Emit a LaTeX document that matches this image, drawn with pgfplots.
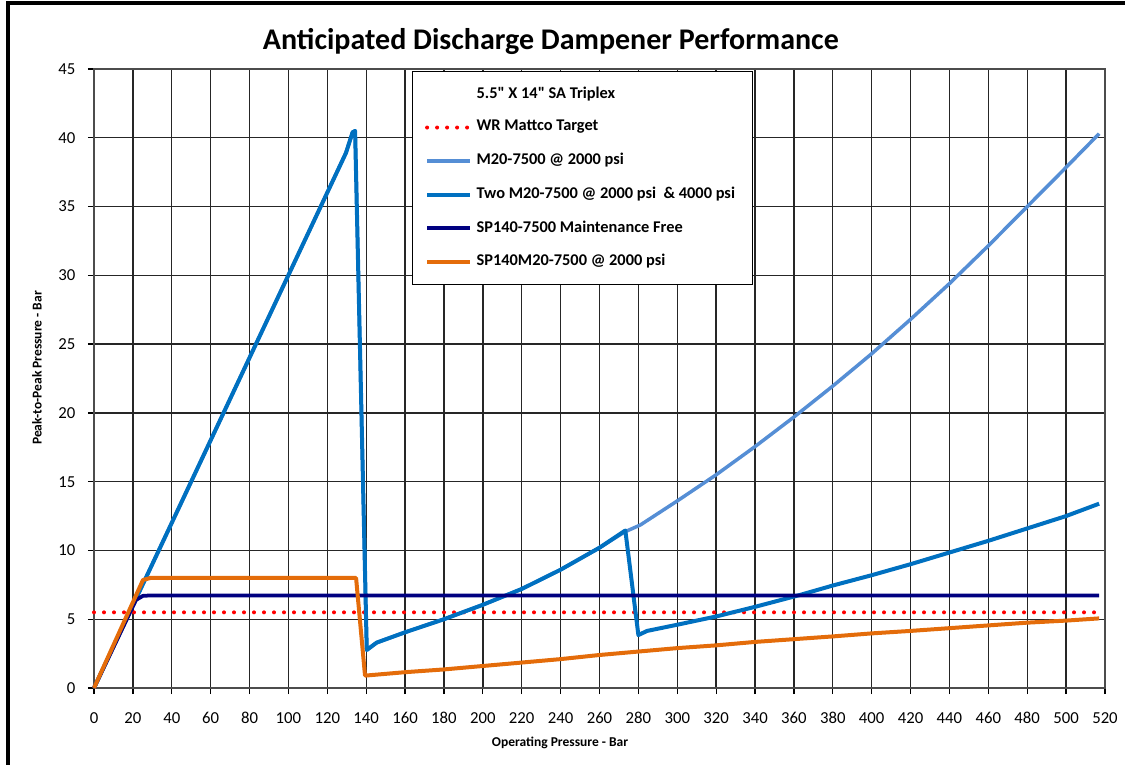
\documentclass[border=0pt]{standalone}
\usepackage{fontspec}
\setmainfont{Carlito}
\newfontfamily\rawfont{Carlito}
\usepackage{pgfplots}
\pgfplotsset{compat=1.18}

\definecolor{lightblu}{RGB}{85,142,213}
\definecolor{darkblu}{RGB}{0,112,192}
\definecolor{navyblu}{RGB}{0,0,128}
\definecolor{orng}{RGB}{228,108,10}

\begin{document}
\begin{tikzpicture}
% page size = 1125x764 px at 0.4pt per px, axis origin at px (94,688)
\useasboundingbox (-37.6pt,-30.4pt) rectangle (412.4pt,275.2pt);
\draw[line width=1.4pt] (-34.4pt,-32pt) -- (-34.4pt,274pt) -- (414pt,274pt);

\begin{axis}[
    scale only axis,
    width=404.4pt, height=247.6pt,
    xmin=0, xmax=520,
    ymin=0, ymax=45,
    xtick distance=20,
    ytick distance=5,
    tick pos=left,
    tick align=outside,
    major tick length=2.4pt,
    grid=major,
    grid style={black!85, line width=0.55pt},
    axis line style={black!70, line width=0.6pt},
    tick style={black, line width=0.5pt},
    clip=false,
    /pgf/number format/assume math mode=true,
    ticklabel style={font=\fontsize{6.7}{7}\selectfont},
    xticklabel style={yshift=-3.8pt},
    yticklabel style={xshift=-1.5pt},
    title={Anticipated Discharge Dampener Performance},
    title style={at={(0.452,1.044)}, anchor=center, yshift=-6pt, font=\bfseries\fontsize{12}{14}\selectfont},
    xlabel={Operating Pressure - Bar},
    xlabel style={at={(0.461,-0.089)}, anchor=center, font=\bfseries\fontsize{5.4}{6}\selectfont},
    ylabel={Peak-to-Peak Pressure - Bar},
    ylabel style={at={(-0.0564,0.517)}, anchor=center, rotate=0, font=\bfseries\fontsize{5.4}{6}\selectfont},
    legend style={at={(0.3145,0.9968)}, anchor=north west, draw=black, line width=0.5pt,
        font=\bfseries\fontsize{6.55}{7}\selectfont, cells={anchor=west},
        row sep=3.4pt, inner xsep=5pt, inner ysep=4pt},
    legend image code/.code={\draw[#1] (0pt,0pt) -- (17pt,0pt);},
]

\addlegendimage{empty legend}
\addlegendentry{{\rawfont\bfseries 5.5" X 14" SA Triplex}}

% WR Mattco Target
\addplot[red, line width=1.6pt, line cap=round, dash pattern=on 0pt off 4pt]
    coordinates {(0,5.5)(517,5.5)};
\addlegendentry{WR Mattco Target}

% M20-7500 @ 2000 psi
\addplot[lightblu, line width=1.4pt, line join=round]
    coordinates {
    (0,0)(129.6,38.9)(133,40.4)(134.3,40.5)(140.3,2.76)(145.4,3.3)(160,4.05)
    (180,5.0)(200,6.05)(220,7.2)(240,8.6)(260,10.2)(273,11.35)(281,11.85)
    (300,13.6)(320,15.5)(340,17.55)(360,19.7)(380,21.95)(400,24.3)(420,26.8)
    (440,29.4)(460,32.15)(480,35.0)(500,37.85)(517,40.3)
    };
\addlegendentry{M20-7500 @ 2000 psi}

% Two M20-7500 @ 2000 psi & 4000 psi
\addplot[darkblu, line width=1.6pt, line join=round]
    coordinates {
    (0,0)(129.6,38.9)(133,40.4)(134.3,40.5)(140.3,2.76)(145.4,3.3)(160,4.05)
    (180,5.0)(200,6.05)(220,7.2)(240,8.6)(260,10.2)(273.3,11.45)(280,3.85)
    (284.5,4.15)(300,4.6)(320,5.2)(340,5.9)(363,6.76)(380,7.45)(400,8.2)
    (420,9.0)(440,9.85)(460,10.7)(480,11.6)(500,12.5)(517,13.4)
    };
\addlegendentry{Two M20-7500 @ 2000 psi \ \& 4000 psi}

% SP140-7500 Maintenance Free
\addplot[navyblu, line width=1.5pt, line join=round]
    coordinates {(0,0)(21.6,6.4)(25.2,6.7)(28,6.72)(517,6.72)};
\addlegendentry{SP140-7500 Maintenance Free}

% SP140M20-7500 @ 2000 psi
\addplot[orng, line width=1.6pt, line join=round]
    coordinates {
    (0,0)(25.2,7.85)(29,8.0)(134.8,8.0)(139.4,0.9)(160,1.15)(180,1.35)
    (200,1.6)(220,1.85)(240,2.1)(260,2.4)(280,2.65)(300,2.9)(320,3.1)
    (340,3.35)(360,3.55)(380,3.75)(400,3.97)(420,4.15)(440,4.35)(460,4.55)
    (480,4.75)(500,4.9)(517,5.06)
    };
\addlegendentry{SP140M20-7500 @ 2000 psi}

\end{axis}
\end{tikzpicture}
\end{document}
